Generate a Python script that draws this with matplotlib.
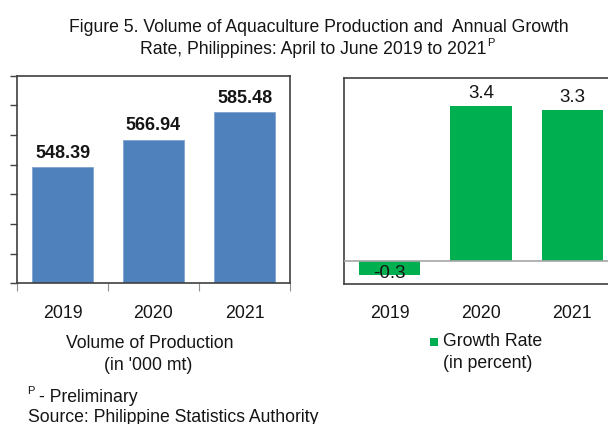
import matplotlib
matplotlib.use('Agg')
import matplotlib.pyplot as plt

plt.rcParams['font.family'] = ['Liberation Sans', 'DejaVu Sans']

years = ['2019', '2020', '2021']
volume = [548.39, 566.94, 585.48]
growth = [-0.3, 3.4, 3.3]

W, H = 608, 424
fig = plt.figure(figsize=(W / 100, H / 100), dpi=100)


def px(x, y):
    return x / W, 1 - y / H


def box(l, t, r, b):
    return [l / W, 1 - b / H, (r - l) / W, (b - t) / H]


edge = '#404040'
ink = '#151515'
fs = 12.7

# left panel: volume of production
ax1 = fig.add_axes(box(17, 75.7, 290, 283.3))
ax1.bar(range(3), volume, width=0.68, color='#4F81BD', edgecolor='#7fa3d0', linewidth=0.6)
ax1.set_xlim(-0.5, 2.5)
ax1.set_ylim(470, 610)
ax1.set_yticks(range(470, 611, 20))
ax1.set_yticklabels([])
ax1.set_xticks([-0.5, 0.5, 1.5, 2.5])
ax1.set_xticklabels([])
ax1.tick_params(axis='y', direction='out', length=5, width=1, color=edge)
ax1.tick_params(axis='x', direction='out', length=6, width=0.8, color='#909090')
for s in ax1.spines.values():
    s.set_color(edge)
    s.set_linewidth(1.2)
for i, v in enumerate(volume):
    ax1.annotate(f'{v:.2f}', (i, v), xytext=(0, 4), textcoords='offset points',
                 ha='center', va='bottom', fontsize=13, fontweight='bold', color=ink)

# right panel: growth rate
ax2 = fig.add_axes(box(344, 78.3, 618, 284.3))
ax2.bar(range(3), growth, width=0.67, color='#00B050')
ax2.set_xlim(-0.5, 2.5)
ax2.set_ylim(-0.5, 4)
ax2.axhline(0, color='#a6a6a6', linewidth=1.2, zorder=3)
ax2.set_xticks([])
ax2.set_yticks([])
for s in ax2.spines.values():
    s.set_color(edge)
    s.set_linewidth(1.2)
for i, v in enumerate(growth):
    if v < 0:
        ax2.annotate(f'{v:.1f}', (i, v), xytext=(0, 1.5), textcoords='offset points',
                     ha='center', va='center', fontsize=13.5, color=ink)
    else:
        ax2.annotate(f'{v:.1f}', (i, v), xytext=(0, 3), textcoords='offset points',
                     ha='center', va='bottom', fontsize=13.5, color=ink)

# year labels
for i, y in enumerate(years):
    x1 = 17 + (i + 0.5) * 91
    x2 = 344 + (i + 0.5) * 91.3
    fig.text(*px(x1, 313), y, ha='center', va='center', fontsize=12.8, color=ink)
    fig.text(*px(x2, 313), y, ha='center', va='center', fontsize=12.8, color=ink)

# axis captions
fig.text(*px(150, 344), 'Volume of Production', ha='center', va='center', fontsize=fs, color=ink)
fig.text(*px(148, 366), "(in '000 mt)", ha='center', va='center', fontsize=fs, color=ink)
fig.patches.append(plt.Rectangle(px(430, 346), 8 / W, 8 / H, transform=fig.transFigure,
                                 facecolor='#00B050', edgecolor='none'))
fig.text(*px(443, 342), 'Growth Rate', ha='left', va='center', fontsize=fs, color=ink)
fig.text(*px(443, 363), '(in percent)', ha='left', va='center', fontsize=fs, color=ink)

# title
fig.text(*px(319, 27), 'Figure 5. Volume of Aquaculture Production and  Annual Growth',
         ha='center', va='center', fontsize=fs, color=ink)
fig.text(*px(487, 49), 'Rate, Philippines: April to June 2019 to 2021',
         ha='right', va='center', fontsize=fs, color=ink)
fig.text(*px(487.5, 43), 'P', ha='left', va='center', fontsize=8, color=ink)

# footnotes
fig.text(*px(27, 391), 'P', ha='left', va='center', fontsize=8, color=ink)
fig.text(*px(39, 397), '- Preliminary', ha='left', va='center', fontsize=fs, color=ink)
fig.text(*px(28, 417), 'Source: Philippine Statistics Authority', ha='left', va='center',
         fontsize=fs, color=ink)

fig.savefig('out.png', dpi=100)
